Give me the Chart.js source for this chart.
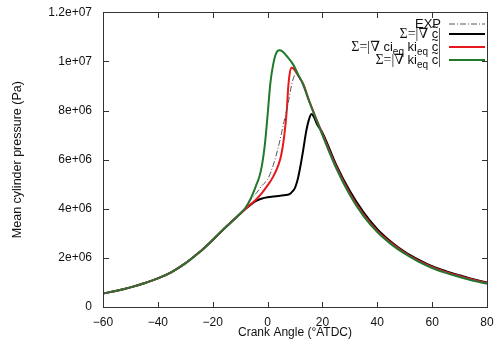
<!DOCTYPE html>
<html>
<head>
<meta charset="utf-8">
<script src="https://cdn.jsdelivr.net/npm/chart.js@4.4.1/dist/chart.umd.min.js"></script>
<style>
  html, body { margin: 0; padding: 0; background: #fff; }
  #wrap { width: 498px; height: 358px; position: relative; }
  .mark { position: absolute; background: #333; pointer-events: none; }
</style>
</head>
<body>
<div id="wrap"><canvas id="pressureChart" width="498" height="358"></canvas></div>
<script>
// values (angle in deg ATDC, pressure in Pa)
const expAngle = [-60, -55, -50, -45, -40, -35, -30, -25, -20, -15, -10, -8, -6, -4, -2, 0, 2, 4, 6, 7.5, 8.5, 9.5, 10.4, 11.2, 12, 13, 15, 20, 25, 30, 35, 40, 45, 50, 55, 60, 65, 70, 75, 80];
const expP = [5.5e5, 6.6e5, 8.0e5, 9.65e5, 1.165e6, 1.425e6, 1.775e6, 2.215e6, 2.73e6, 3.275e6, 3.8e6, 4.05e6, 4.4e6, 4.65e6, 4.95e6, 5.2e6, 5.75e6, 6.55e6, 7.55e6, 8.3e6, 8.9e6, 9.35e6, 9.5e6, 9.4e6, 9.22e6, 9.03e6, 8.45e6, 7.04e6, 5.71e6, 4.6e6, 3.74e6, 3.09e6, 2.6e6, 2.2e6, 1.88e6, 1.62e6, 1.42e6, 1.25e6, 1.1e6, 9.7e5];

const gradAngle = [-60, -55, -50, -45, -40, -35, -30, -25, -20, -15, -10, -8, -6, -4, -2, 0, 2, 4, 6, 8, 9, 10, 11, 12, 13, 14, 15, 16, 17, 18, 20, 25, 30, 35, 40, 45, 50, 55, 60, 65, 70, 75, 80];
const gradP = [5.5e5, 6.6e5, 8.0e5, 9.65e5, 1.165e6, 1.425e6, 1.775e6, 2.215e6, 2.73e6, 3.275e6, 3.8e6, 4.0e6, 4.18e6, 4.33e6, 4.42e6, 4.47e6, 4.5e6, 4.52e6, 4.55e6, 4.6e6, 4.7e6, 4.85e6, 5.2e6, 5.75e6, 6.4e6, 7.1e6, 7.6e6, 7.86e6, 7.72e6, 7.45e6, 7.1e6, 5.8e6, 4.72e6, 3.85e6, 3.17e6, 2.66e6, 2.25e6, 1.93e6, 1.66e6, 1.46e6, 1.29e6, 1.13e6, 1.0e6];

const ciAngle = [-60, -55, -50, -45, -40, -35, -30, -25, -20, -15, -10, -8, -6, -4, -2, 0, 2, 4, 5, 6, 7, 7.5, 8, 8.7, 9.5, 11, 13, 15, 20, 25, 30, 35, 40, 45, 50, 55, 60, 65, 70, 75, 80];
const ciP = [5.5e5, 6.6e5, 8.0e5, 9.65e5, 1.165e6, 1.425e6, 1.775e6, 2.215e6, 2.73e6, 3.275e6, 3.8e6, 4.0e6, 4.2e6, 4.4e6, 4.65e6, 4.95e6, 5.3e6, 5.8e6, 6.2e6, 6.9e6, 8.0e6, 8.9e6, 9.45e6, 9.74e6, 9.7e6, 9.45e6, 9.08e6, 8.45e6, 7.05e6, 5.72e6, 4.62e6, 3.76e6, 3.1e6, 2.61e6, 2.21e6, 1.89e6, 1.63e6, 1.43e6, 1.26e6, 1.11e6, 9.8e5];

const kiAngle = [-60, -55, -50, -45, -40, -35, -30, -25, -20, -15, -10, -8, -6, -4, -3, -2, -1, 0, 1, 2, 3, 4.3, 5.5, 7, 9.3, 11, 13, 15, 20, 25, 30, 35, 40, 45, 50, 55, 60, 65, 70, 75, 80];
const kiP = [5.5e5, 6.6e5, 8.0e5, 9.65e5, 1.165e6, 1.425e6, 1.775e6, 2.215e6, 2.73e6, 3.275e6, 3.8e6, 4.05e6, 4.45e6, 5.0e6, 5.3e6, 5.8e6, 6.6e6, 7.8e6, 9.1e6, 9.85e6, 10.3e6, 10.45e6, 10.4e6, 10.22e6, 9.88e6, 9.5e6, 9.05e6, 8.42e6, 7.0e6, 5.66e6, 4.56e6, 3.7e6, 3.05e6, 2.56e6, 2.17e6, 1.85e6, 1.59e6, 1.39e6, 1.22e6, 1.07e6, 9.5e5];

const xTicks = [-60, -40, -20, 0, 20, 40, 60, 80];
const yTicks = [0, 2e6, 4e6, 6e6, 8e6, 1e7, 1.2e7];

function toPoints(xs, ys) {
  return xs.map((x, i) => ({ x: x, y: ys[i] }));
}

function gnuplotExp(v) {
  if (v === 0) return "0";
  const e = Math.floor(Math.log10(v));
  const m = Number((v / Math.pow(10, e)).toPrecision(6));
  return m + "e+" + String(e).padStart(2, "0");
}

const fontSans = "'Liberation Sans', Arial, Helvetica, sans-serif";

// border all round with inward ticks (gnuplot look); positions come from the chart's scales
function frameRects(chart) {
  const a = chart.chartArea;
  const xs = chart.scales.x, ys = chart.scales.y;
  const L = Math.round(a.left), T = Math.round(a.top), R = Math.round(a.right), B = Math.round(a.bottom);
  const len = 5;
  const rects = [
    [L, T, R - L + 1, 1], [L, B, R - L + 1, 1], [L, T, 1, B - T + 1], [R, T, 1, B - T + 1]
  ];
  xTicks.forEach(v => {
    const px = Math.round(xs.getPixelForValue(v));
    rects.push([px, B - len, 1, len], [px, T + 1, 1, len]);
  });
  yTicks.forEach(v => {
    const py = Math.round(ys.getPixelForValue(v));
    rects.push([L + 1, py, len, 1], [R - len, py, len, 1]);
  });
  return rects;
}

const frameTicks = {
  id: "frameTicks",
  afterDraw(chart) {
    const c = chart.ctx;
    c.save();
    c.fillStyle = "#333";
    frameRects(chart).forEach(r => c.fillRect(r[0], r[1], r[2], r[3]));
    c.restore();
  }
};

// legend rows: text pieces drawn right-aligned, with subscripts and tilde-c
const serif = "'Liberation Serif', 'DejaVu Serif', serif";
const legendRows = [
  { color: "#555", dash: [6, 2, 1, 2], width: 1, y: 24,
    parts: [{ t: "EXP" }] },
  { color: "#000", dash: [], width: 2, y: 34,
    parts: [{ t: "Σ=|∇ ", f: serif }, { t: "c", tilde: true }, { t: "|", f: serif }] },
  { color: "#e8191c", dash: [], width: 2, y: 47,
    parts: [{ t: "Σ=|∇ ", f: serif }, { t: "ci" }, { t: "eq", sub: true }, { t: " ki" }, { t: "eq", sub: true }, { t: " " }, { t: "c", tilde: true }, { t: "|", f: serif }] },
  { color: "#1f7a2c", dash: [], width: 2, y: 60,
    parts: [{ t: "Σ=|∇ ", f: serif }, { t: "ki" }, { t: "eq", sub: true }, { t: " " }, { t: "c", tilde: true }, { t: "|", f: serif }] }
];

const customLegend = {
  id: "customLegend",
  afterDraw(chart) {
    const c = chart.ctx;
    const textRight = 441;
    c.save();
    legendRows.forEach(row => {
      const base = row.y + 4;
      const fontOf = p => (p.sub ? "10px " : (p.f ? "14px " : "13px ")) + (p.f || fontSans);
      let total = 0;
      row.parts.forEach(p => { c.font = fontOf(p); total += c.measureText(p.t).width; });
      let x = textRight - total;
      c.fillStyle = "#111";
      c.textBaseline = "alphabetic";
      c.textAlign = "left";
      row.parts.forEach(p => {
        c.font = fontOf(p);
        const w = c.measureText(p.t).width;
        c.fillText(p.t, x, p.sub ? base + 4 : base);
        if (p.tilde) {
          c.font = "12px " + fontSans;
          const tw = c.measureText("~").width;
          c.fillText("~", x + (w - tw) / 2, base - 7);
        }
        x += w;
      });
      c.beginPath();
      c.strokeStyle = row.color;
      c.lineWidth = row.width;
      c.setLineDash(row.dash);
      c.moveTo(449, row.y);
      c.lineTo(485, row.y);
      c.stroke();
      c.setLineDash([]);
    });
    c.restore();
  }
};

const ctx = document.getElementById("pressureChart").getContext("2d");
window.pressure = new Chart(ctx, {
  type: "line",
  data: {
    datasets: [
      { label: "EXP", data: toPoints(expAngle, expP), borderColor: "#555", borderWidth: 1, borderDash: [6, 2, 1, 2], order: 1 },
      { label: "grad c", data: toPoints(gradAngle, gradP), borderColor: "#000", borderWidth: 2, order: 4 },
      { label: "ci ki", data: toPoints(ciAngle, ciP), borderColor: "#e8191c", borderWidth: 2, order: 3 },
      { label: "ki", data: toPoints(kiAngle, kiP), borderColor: "#1f7a2c", borderWidth: 2, order: 2 }
    ]
  },
  options: {
    responsive: false,
    animation: false,
    parsing: false,
    elements: { point: { radius: 0 }, line: { cubicInterpolationMode: "monotone", fill: false } },
    layout: { padding: { top: 12.3, right: 11, left: 0, bottom: 0 } },
    plugins: { legend: { display: false }, tooltip: { enabled: false } },
    scales: {
      x: {
        type: "linear",
        min: -60, max: 80,
        afterBuildTicks: s => { s.ticks = xTicks.map(v => ({ value: v })); },
        afterFit: s => { s.height = 51; s.paddingLeft = 0; s.paddingRight = 0; },
        grid: { display: false, drawTicks: false },
        border: { display: false },
        ticks: {
          padding: 8,
          color: "#111",
          font: { family: fontSans, size: 12 },
          maxRotation: 0,
          callback: v => v < 0 ? "\u2212" + (-v) : String(v)
        },
        title: { display: true, text: "Crank Angle (°ATDC)", color: "#111", font: { family: fontSans, size: 12 }, padding: { top: 18, bottom: 18 } }
      },
      y: {
        type: "linear",
        min: 0, max: 1.2e7,
        afterBuildTicks: s => { s.ticks = yTicks.map(v => ({ value: v })); },
        afterFit: s => { s.width = 103; s.paddingTop = 0; s.paddingBottom = 0; },
        grid: { display: false, drawTicks: false },
        border: { display: false },
        ticks: {
          padding: 11,
          color: "#111",
          font: { family: fontSans, size: 12 },
          callback: v => gnuplotExp(v)
        },
        title: { display: true, text: "Mean cylinder pressure (Pa)", color: "#111", font: { family: fontSans, size: 12.5 }, padding: { top: 10, bottom: 10 } }
      }
    }
  },
  plugins: [frameTicks, customLegend]
});

// same frame repeated as an overlay so it survives whatever the canvas does at its edges
const wrap = document.getElementById("wrap");
frameRects(window.pressure).forEach(r => {
  const d = document.createElement("div");
  d.className = "mark";
  d.style.left = r[0] + "px";
  d.style.top = r[1] + "px";
  d.style.width = r[2] + "px";
  d.style.height = r[3] + "px";
  wrap.appendChild(d);
});
</script>
</body>
</html>
